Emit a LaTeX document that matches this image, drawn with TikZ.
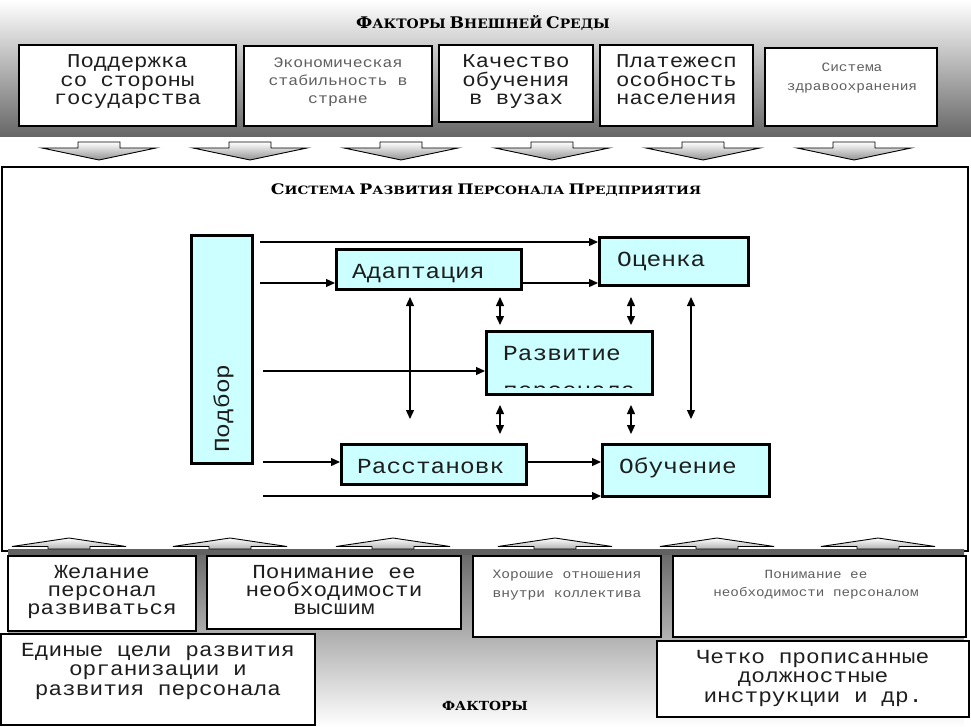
\documentclass[tikz,border=0pt]{standalone}
\usepackage{fontspec}
\usepackage{graphicx}
\newfontfamily\cmono[FakeStretch=1.14]{Liberation Mono}
\newfontfamily\ttlfont{DejaVu Serif}
\usetikzlibrary{arrows.meta}
\definecolor{cyanfill}{RGB}{204,255,255}
\definecolor{txtdark}{RGB}{30,30,30}
\definecolor{txtgray}{RGB}{95,95,95}
\newcommand\mfont[2]{\cmono\fontsize{#1}{#2}\selectfont}
\newcommand\fsc[2]{{\fontsize{#1}{#1}\selectfont #2}}
\begin{document}
\begin{tikzpicture}[x=1pt,y=-1pt,
  topbox/.style={draw=black, line width=1.5pt, fill=white, inner sep=0pt},
  botbox/.style={draw=black, line width=1.5pt, fill=white, inner sep=0pt},
  cbox/.style={draw=black, line width=3pt, fill=cyanfill, inner sep=0pt},
  txt/.style={align=center, inner sep=0pt, text=txtdark, anchor=base},
  stxt/.style={align=center, inner sep=0pt, text=txtgray, anchor=base},
  ctxt/.style={inner sep=0pt, text=txtdark, anchor=base west, font=\mfont{21.5}{21.5}},
  ttl/.style={inner sep=0pt, anchor=base, text=black},
  arr/.style={line width=1.3pt, -{Triangle[length=9pt,width=8pt]}},
  darr/.style={line width=1.3pt, {Triangle[length=9pt,width=8pt]}-{Triangle[length=9pt,width=8pt]}},
  blockarrow/.style={draw=black, line width=0.9pt, top color=white, bottom color=gray!85},
]
\useasboundingbox (0,0) rectangle (971,727);
\fill[white] (0,0) rectangle (971,727);

% ---------- top band ----------
\shade[top color=white, bottom color=black!60] (0,0) rectangle (971,137);
\node[ttl] (toptitle) at (483,29) {\scalebox{1.07}[1]{\ttlfont\bfseries \fsc{16}{Ф}\fsc{13}{АКТОРЫ} \fsc{16}{В}\fsc{13}{НЕШНЕЙ} \fsc{16}{С}\fsc{13}{РЕДЫ}}};

\node[topbox, minimum width=217, minimum height=81] (t1) at (127.5,85.5) {};
\node[topbox, minimum width=188, minimum height=80] (t2) at (338,86) {};
\node[topbox, minimum width=154, minimum height=77] (t3) at (516,83.5) {};
\node[topbox, minimum width=153, minimum height=81] (t4) at (676.5,85.5) {};
\node[topbox, minimum width=172, minimum height=78] (t5) at (851,87) {};

\node[txt, font=\mfont{19.6}{18.3}] (t1txt) at (127.5,104.6) {Поддержка\\со стороны\\государства};
\node[stxt, font=\mfont{14.5}{18}] (t2txt) at (338,104) {Экономическая\\стабильность в\\стране};
\node[txt, font=\mfont{19.6}{18.3}] (t3txt) at (516,104.6) {Качество\\обучения\\в вузах};
\node[txt, font=\mfont{19.6}{18.3}] (t4txt) at (676.5,104.6) {Платежесп\\особность\\населения};
\node[stxt, font=\mfont{12.7}{19}] (t5txt) at (852,91) {Система\\здравоохранения};

% ---------- down arrows ----------
\foreach \c [count=\i] in {99,250,401,552,703,854}{
  \shade[blockarrow] (\c-21,142) -- (\c+21,142) -- (\c+21,148) -- (\c+57,148)
     -- (\c,160) -- (\c-57,148) -- (\c-21,148) -- cycle;
}

% ---------- main frame ----------
\draw[line width=2pt] (2,167) rectangle (968,551);
\node[ttl] (midtitle) at (486,195) {\scalebox{1.19}[1]{\ttlfont\bfseries \fsc{14.5}{С}\fsc{11.5}{ИСТЕМА} \fsc{14.5}{Р}\fsc{11.5}{АЗВИТИЯ} \fsc{14.5}{П}\fsc{11.5}{ЕРСОНАЛА} \fsc{14.5}{П}\fsc{11.5}{РЕДПРИЯТИЯ}}};

\node[cbox, minimum width=61, minimum height=228] (podbor) at (222,349.5) {};
\node[cbox, minimum width=185, minimum height=40] (adapt) at (429,269.5) {};
\node[cbox, minimum width=149, minimum height=48] (ocenka) at (674,261.5) {};
\node[cbox, minimum width=166, minimum height=63] (razv) at (569.5,363) {};
\node[cbox, minimum width=185, minimum height=40] (rasst) at (434,464.5) {};
\node[cbox, minimum width=167, minimum height=52] (obuch) at (686,470.5) {};

\node[ctxt, rotate=90] (podbortxt) at (229,453) {Подбор};
\node[ctxt] (adapttxt) at (352,278) {Адаптация};
\node[ctxt] (ocenkatxt) at (617,266) {Оценка};
\node[ctxt] (razvtxt) at (503,360) {Развитие};
\begin{scope}
  \clip (488,385) rectangle (651,387.5);
  \node[ctxt] (razvtxt2) at (503,397) {персонала};
\end{scope}
\node[ctxt] (rassttxt) at (357,473) {Расстановк};
\node[ctxt] (obuchtxt) at (619,473) {Обучение};

% connectors from Подбор
\coordinate (s1) at (260,242);
\coordinate (s2) at (260,283);
\coordinate (s3) at (263,371);
\coordinate (s4) at (263,462);
\coordinate (s5) at (263,496);
\draw[arr] (s1) -- (s1 -| ocenka.west);
\draw[arr] (s2) -- (s2 -| adapt.west);
\draw[arr] (adapt.east |- s2) -- (s2 -| ocenka.west);
\draw[arr] (s3) -- (s3 -| razv.west);
\draw[arr] (s4) -- (s4 -| rasst.west);
\draw[arr] (rasst.east |- s4) -- (s4 -| obuch.west);
\draw[arr] (s5) -- (s5 -| obuch.west);

% vertical double arrows
\coordinate (v1a) at (410,297); \coordinate (v1b) at (410,419);
\coordinate (v2a) at (500,297); \coordinate (v2b) at (500,325);
\coordinate (v3a) at (500,405); \coordinate (v3b) at (500,434);
\coordinate (v4a) at (631,297); \coordinate (v4b) at (631,325);
\coordinate (v5a) at (631,405); \coordinate (v5b) at (631,434);
\coordinate (v6a) at (691,297); \coordinate (v6b) at (691,419);
\draw[darr] (v1a) -- (v1b);
\draw[darr] (v2a) -- (v2b);
\draw[darr] (v3a) -- (v3b);
\draw[darr] (v4a) -- (v4b);
\draw[darr] (v5a) -- (v5b);
\draw[darr] (v6a) -- (v6b);

% ---------- bottom band ----------
\shade[top color=black!60, middle color=black!35, bottom color=white] (8,549) rectangle (964,727);
\fill[black!62] (8,549) rectangle (964,555);

\foreach \c in {69,230,393,555,717,878}{
  \shade[blockarrow, top color=white, bottom color=gray!60] (\c,538) -- (\c+57,546.5) -- (\c+21,546.5) -- (\c+21,549)
     -- (\c-21,549) -- (\c-21,546.5) -- (\c-57,546.5) -- cycle;
}

\node[botbox, minimum width=188, minimum height=75] (b1) at (102,593.5) {};
\node[botbox, minimum width=254, minimum height=73] (b2) at (334,592.5) {};
\node[botbox, minimum width=188, minimum height=81] (b3) at (567,596.5) {};
\node[botbox, minimum width=293, minimum height=81] (b4) at (819.5,596.5) {};
\node[botbox, minimum width=314, minimum height=91] (b5) at (158,679.5) {};
\node[botbox, minimum width=312, minimum height=76] (b6) at (813,679) {};

\node[txt, font=\mfont{19.9}{18.3}] (b1txt) at (102,614.6) {Желание\\персонал\\развиваться};
\node[txt, font=\mfont{19.9}{18.3}] (b2txt) at (334,614.6) {Понимание ее\\необходимости\\высшим};
\node[stxt, font=\mfont{12.8}{19}] (b3txt) at (567,597) {Хорошие отношения\\внутри коллектива};
\node[stxt, font=\mfont{12.5}{18.5}] (b4txt) at (816,596.5) {Понимание ее\\необходимости персоналом};
\node[txt, font=\mfont{20}{19.6}] (b5txt) at (158,695.2) {Единые цели развития\\организации и\\развития персонала};
\node[txt, font=\mfont{20}{19.5}] (b6txt) at (813,702) {Четко прописанные\\должностные\\инструкции и др.};

\node[ttl] (bottitle) at (485,710) {\scalebox{1.1}[1]{\ttlfont\bfseries\fsc{12.5}{ФАКТОРЫ}}};
\end{tikzpicture}
\end{document}
